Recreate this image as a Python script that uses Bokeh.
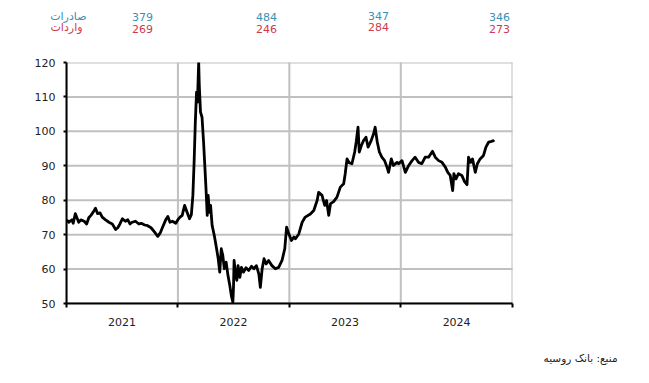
import pandas as pd
from bokeh.plotting import figure
from bokeh.layouts import column, row
from bokeh.models import FixedTicker, DatetimeTickFormatter, Range1d
from bokeh.core.properties import value
from bokeh.embed import file_html
from bokeh.resources import INLINE

# ---- data (USD/RUB) ----
dates_2021 = ["2021-01-02", "2021-01-08", "2021-01-19", "2021-01-23", "2021-01-30", "2021-02-10",
              "2021-02-17", "2021-02-28", "2021-03-08", "2021-03-15", "2021-03-22", "2021-03-30",
              "2021-04-06", "2021-04-13", "2021-04-21", "2021-04-28", "2021-05-09", "2021-05-20",
              "2021-05-31", "2021-06-11", "2021-06-18", "2021-06-25", "2021-07-03", "2021-07-13",
              "2021-07-21", "2021-07-28", "2021-08-04", "2021-08-15", "2021-08-26", "2021-09-03",
              "2021-09-14", "2021-09-24", "2021-10-05", "2021-10-16", "2021-10-27", "2021-11-04",
              "2021-11-11", "2021-11-22", "2021-11-29", "2021-12-06", "2021-12-14", "2021-12-25"]
values_2021 = [74.3, 73.6, 74.3, 73.3, 76.1, 73.6,
               74.3, 73.9, 73.1, 74.9, 75.6, 76.6,
               77.7, 76.1, 76.3, 75.1, 74.3, 73.6,
               73.1, 71.5, 72.0, 73.1, 74.6, 73.9,
               74.3, 73.1, 73.6, 73.9, 73.1, 73.3,
               72.8, 72.6, 72.0, 70.8, 69.5, 70.5,
               72.0, 74.3, 75.3, 73.6, 73.9, 73.3]

dates_2022 = ["2022-01-03", "2022-01-08", "2022-01-15", "2022-01-23", "2022-01-31", "2022-02-08",
              "2022-02-14", "2022-02-19", "2022-02-23", "2022-02-27", "2022-03-03", "2022-03-06",
              "2022-03-10", "2022-03-12", "2022-03-16", "2022-03-21", "2022-03-26", "2022-03-30",
              "2022-04-03", "2022-04-07", "2022-04-10", "2022-04-14", "2022-04-18", "2022-04-23",
              "2022-04-30", "2022-05-06", "2022-05-13", "2022-05-18", "2022-05-23", "2022-05-28",
              "2022-06-02", "2022-06-08", "2022-06-14", "2022-06-20", "2022-06-25", "2022-06-30",
              "2022-07-02", "2022-07-04", "2022-07-08", "2022-07-13", "2022-07-17", "2022-07-23",
              "2022-07-28", "2022-08-04", "2022-08-12", "2022-08-21", "2022-08-30", "2022-09-07",
              "2022-09-15", "2022-09-23", "2022-09-28", "2022-10-04", "2022-10-10", "2022-10-17",
              "2022-10-25", "2022-11-05", "2022-11-16", "2022-11-27", "2022-12-08", "2022-12-17",
              "2022-12-23", "2022-12-30"]
values_2022 = [74.6, 75.1, 75.6, 78.5, 76.5, 74.6,
               75.8, 81.4, 91.0, 102.7, 111.4, 108.5,
               120.1, 113.3, 105.6, 104.1, 96.9, 90.1,
               83.3, 75.6, 81.4, 76.5, 78.5, 72.7,
               69.8, 66.8, 63.0, 59.1, 65.9, 64.0,
               60.1, 62.0, 58.1, 55.2, 52.3, 50.4,
               54.7, 62.5, 59.1, 56.7, 61.0, 57.6,
               60.5, 59.1, 60.4, 59.6, 60.8, 60.1,
               61.0, 58.6, 54.7, 60.1, 63.0, 61.5,
               62.5, 61.0, 60.1, 60.5, 62.5, 65.9,
               72.2, 70.3]

dates_2023 = ["2023-01-08", "2023-01-16", "2023-01-21", "2023-02-01", "2023-02-12", "2023-02-22",
              "2023-03-11", "2023-03-22", "2023-04-02", "2023-04-07", "2023-04-18", "2023-04-27",
              "2023-05-03", "2023-05-10", "2023-05-16", "2023-05-26", "2023-06-06", "2023-06-17",
              "2023-06-28", "2023-07-03", "2023-07-09", "2023-07-16", "2023-07-25", "2023-08-03",
              "2023-08-08", "2023-08-14", "2023-08-18", "2023-08-25", "2023-09-01", "2023-09-09",
              "2023-09-16", "2023-09-26", "2023-10-04", "2023-10-09", "2023-10-16", "2023-10-23",
              "2023-10-31", "2023-11-09", "2023-11-17", "2023-11-22", "2023-12-01", "2023-12-08",
              "2023-12-20", "2023-12-25"]
values_2023 = [68.3, 69.3, 68.8, 70.2, 73.6, 75.1,
               76.0, 77.0, 79.9, 82.3, 81.4, 78.5,
               79.9, 75.6, 79.0, 79.6, 80.9, 83.8,
               84.8, 87.7, 92.0, 90.9, 90.6, 94.0,
               96.9, 101.2, 94.0, 95.9, 97.3, 98.3,
               95.4, 97.3, 99.3, 101.2, 96.9, 94.0,
               92.5, 91.5, 89.6, 88.1, 92.0, 90.1,
               91.0, 90.6]

dates_2024 = ["2024-01-05", "2024-01-16", "2024-01-27", "2024-02-07", "2024-02-17", "2024-02-28",
              "2024-03-10", "2024-03-21", "2024-04-01", "2024-04-14", "2024-04-23", "2024-05-04",
              "2024-05-15", "2024-05-26", "2024-06-03", "2024-06-11", "2024-06-19", "2024-06-23",
              "2024-06-30", "2024-07-08", "2024-07-19", "2024-07-28", "2024-08-05", "2024-08-10",
              "2024-08-17", "2024-08-23", "2024-09-01", "2024-09-08", "2024-09-17", "2024-09-28",
              "2024-10-06", "2024-10-15", "2024-10-24", "2024-10-31", "2024-11-02"]
values_2024 = [91.5, 88.1, 90.1, 91.5, 92.5, 91.0,
               90.6, 92.5, 92.5, 94.2, 92.5, 91.5,
               91.0, 89.6, 88.1, 87.2, 82.8, 87.7,
               86.2, 87.7, 87.2, 85.4, 84.5, 92.5,
               91.0, 92.0, 88.1, 90.6, 92.0, 93.0,
               95.4, 96.9, 97.1, 97.3, 97.5]

years = [2021, 2022, 2023, 2024]
exports = [379, 484, 347, 346]
imports = [269, 246, 284, 273]
label_exports = "صادرات"
label_imports = "واردات"
source_text = "منبع: بانک روسیه"
y_ticks = [50, 60, 70, 80, 90, 100, 110, 120]

TEAL = "#3b8fb3"
RED = "#cc3a52"
GRID = "silver"
FONT = "DejaVu Sans"

W = 649
LEFT, RIGHT = 66, 137


def ms(s):
    return pd.Timestamp(s).value / 1e6


def strip(height):
    f = figure(width=W, height=height, x_range=Range1d(0, W), y_range=Range1d(height, 0),
               output_backend="svg", toolbar_location=None,
               x_axis_location=None, y_axis_location=None,
               min_border_left=0, min_border_right=0,
               min_border_top=0, min_border_bottom=0)
    f.grid.visible = False
    f.outline_line_color = None
    return f


dates = pd.to_datetime(dates_2021 + dates_2022 + dates_2023 + dates_2024)
values = values_2021 + values_2022 + values_2023 + values_2024
year_starts = [ms(f"{y}-01-01") for y in years + [2025]]
year_mids = [ms(f"{y}-07-02") for y in years]

# ---------------- top strip: exports / imports ----------------
top = strip(48)
num_x = [142, 266, 378, 499]
num_dy = [0, 0, -1.5, 0]
top.text(x=num_x, y=[16.5 + d for d in num_dy], text=[str(v) for v in exports],
         text_color=TEAL, text_align="center", text_baseline="middle",
         text_font=value(FONT), text_font_size="11px")
top.text(x=num_x, y=[28.0 + d for d in num_dy], text=[str(v) for v in imports],
         text_color=RED, text_align="center", text_baseline="middle",
         text_font=value(FONT), text_font_size="11px")
top.text(x=[86], y=[15.5], text=[label_exports], text_color=TEAL,
         text_align="right", text_baseline="middle",
         text_font=value(FONT), text_font_size="11px")
top.text(x=[82], y=[26.5], text=[label_imports], text_color=RED,
         text_align="right", text_baseline="middle",
         text_font=value(FONT), text_font_size="11px")

# ---------------- main chart ----------------
p = figure(width=W, height=292, x_axis_type="datetime",
           output_backend="svg", toolbar_location=None,
           x_range=Range1d(year_starts[0], year_starts[-1]),
           y_range=Range1d(y_ticks[0], y_ticks[-1]),
           min_border_left=LEFT, min_border_right=RIGHT,
           min_border_top=14, min_border_bottom=37)
p.grid.visible = False
p.outline_line_color = None

# grid lines on the tick values (line glyphs, drawn beneath the data line;
# they run a little past the frame and are clipped at its edges)
pad_x = (year_starts[-1] - year_starts[0]) * 0.02
pad_y = 1.0
for t in y_ticks:
    p.line([year_starts[0] - pad_x, year_starts[-1] + pad_x], [t, t],
           line_color=GRID, line_width=2)
for t in year_starts:
    p.line([t, t], [y_ticks[0] - pad_y, y_ticks[-1] + pad_y],
           line_color=GRID, line_width=2)

p.line(dates, values, line_color="black", line_width=2.8, line_join="round")

p.xaxis.ticker = FixedTicker(ticks=year_mids, minor_ticks=year_starts)
p.xaxis.formatter = DatetimeTickFormatter(
    microseconds="%Y", milliseconds="%Y", seconds="%Y", minsec="%Y", minutes="%Y",
    hourmin="%Y", hours="%Y", days="%Y", months="%Y", years="%Y")
p.xaxis.major_tick_line_color = None
p.xaxis.minor_tick_line_color = "black"
p.xaxis.minor_tick_line_width = 2
p.xaxis.minor_tick_out = 4
p.xaxis.minor_tick_in = 0
p.xaxis.major_label_standoff = 8

p.yaxis.ticker = FixedTicker(ticks=y_ticks)
p.yaxis.major_tick_out = 3
p.yaxis.major_tick_in = 0
p.yaxis.major_tick_line_width = 2
p.yaxis.minor_tick_line_color = None
p.yaxis.major_label_standoff = 8

for ax in (p.xaxis, p.yaxis):
    ax.axis_line_color = "black"
    ax.axis_line_width = 2
    ax.major_label_text_font = FONT
    ax.major_label_text_font_size = "11px"
    ax.major_label_text_color = "#222222"

# ---------------- bottom strip: source ----------------
bot = strip(43)
bot.text(x=[617], y=[17], text=[source_text], text_color="#222222",
         text_align="right", text_baseline="middle",
         text_font=value(FONT), text_font_size="10.5px")

layout = column(row(top), row(p), row(bot), spacing=0)
open("out.html", "w").write(file_html(layout, INLINE))
